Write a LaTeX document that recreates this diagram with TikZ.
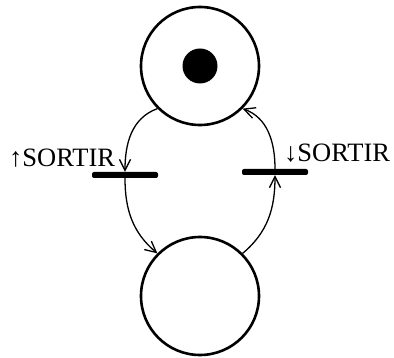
\documentclass[tikz,border=0pt]{standalone}
\usepackage{fontspec}
\setmainfont{Liberation Serif}
\usetikzlibrary{arrows.meta,positioning}

\begin{document}
\begin{tikzpicture}[
    x=1pt, y=-1pt,
    place/.style={circle, draw, line width=2.6pt, minimum size=118pt, inner sep=0pt},
    token/.style={circle, fill, minimum size=35pt, inner sep=0pt},
    trans/.style={rectangle, fill, rounded corners=2pt, minimum width=66pt,
                  minimum height=6pt, inner sep=0pt},
    arc/.style={-{Straight Barb[length=11pt, width=11pt]}, line width=1.3pt},
    lbl/.style={font=\fontsize{26.5}{30}\selectfont, inner sep=0pt}
]
\useasboundingbox (0,0) rectangle (394,358);

% Places
\node[place] (p1) at (200,66) {};
\node[token] at (p1.center) {};
\node[place] (p2) at (200,296) {};

% Transitions
\node[trans] (t1) at (125,175) {};
\node[trans] (t2) at (275,172) {};

% Arcs
\draw[arc] (p1.225) to[out=200, in=90] (t1.north);
\draw[arc] (t1.south) to[out=-90, in=140] (p2.135);
\draw[arc] (p2.45) to[out=40, in=-90] (t2.south);
\draw[arc] (t2.north) to[out=90, in=-20] (p1.-45);

% Labels
\node[lbl, anchor=base west] (l1) at (9,167) {↑SORTIR};
\node[lbl, anchor=base west] (l2) at (284,162) {↓SORTIR};

\end{tikzpicture}
\end{document}
